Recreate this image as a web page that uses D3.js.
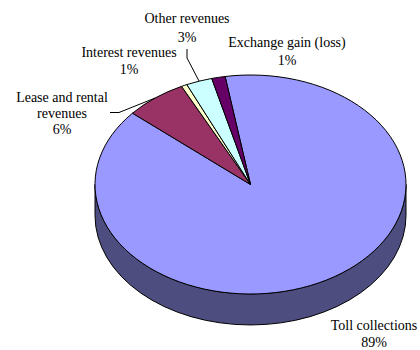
<!DOCTYPE html>
<html>
<head>
<meta charset="utf-8">
<script src="https://cdn.jsdelivr.net/npm/d3@7"></script>
<style>
  body { margin: 0; background: #fff; }
</style>
</head>
<body>
<div id="chart"></div>
<script>
// slice data, clockwise from the top
const categories = ["Toll collections", "Lease and rental revenues", "Interest revenues", "Other revenues", "Exchange gain (loss)"];
const values = [88.9, 6.4, 0.6, 2.7, 1.4];
const labelLines = [
  ["Toll collections", "89%"],
  ["Lease and rental", "revenues", "6%"],
  ["Interest revenues", "1%"],
  ["Other revenues", "3%"],
  ["Exchange gain (loss)", "1%"]
];
const colors = ["#9999ff", "#993366", "#ffffcc", "#ccffff", "#660066"];

const width = 420, height = 350;
const cx = 250.5, cy = 184.5, rx = 155.5, ry = 109.5, depth = 31;
const startDeg = -9.4;

const svg = d3.select("#chart").append("svg")
  .attr("width", width)
  .attr("height", height);

const pie = d3.pie().sort(null)
  .startAngle(startDeg * Math.PI / 180)
  .endAngle((startDeg + 360) * Math.PI / 180);
const arcs = pie(values);

// point on the top ellipse for angle measured clockwise from 12 o'clock
function pt(a, dy) {
  return [cx + rx * Math.sin(a), cy - ry * Math.cos(a) + (dy || 0)];
}

// side wall (front half, all of it belongs to the toll slice)
const sideD = "M" + [cx - rx, cy] + " L" + [cx - rx, cy + depth] +
  " A" + rx + "," + ry + " 0 0 0 " + [cx + rx, cy + depth] +
  " L" + [cx + rx, cy] + " A" + rx + "," + ry + " 0 0 1 " + [cx - rx, cy] + " Z";
svg.append("path")
  .attr("d", sideD)
  .attr("fill", "#4d4d80")
  .attr("stroke", "#000")
  .attr("stroke-width", 1);

// top slices
function slicePath(d) {
  const p0 = pt(d.startAngle), p1 = pt(d.endAngle);
  const large = (d.endAngle - d.startAngle) > Math.PI ? 1 : 0;
  return "M" + [cx, cy] + " L" + p0 + " A" + rx + "," + ry + " 0 " + large + " 1 " + p1 + " Z";
}

svg.append("g").selectAll("path")
  .data(arcs)
  .join("path")
  .attr("d", slicePath)
  .attr("fill", (d, i) => colors[i])
  .attr("stroke", "#000")
  .attr("stroke-width", 1)
  .attr("stroke-linejoin", "round");

// labels
const labelPos = [
  { x: 374, y: 330, lh: 17 },
  { x: 62, y: 102, lh: 16 },
  { x: 129, y: 57, lh: 17 },
  { x: 187, y: 23, lh: 18.5 },
  { x: 287, y: 47, lh: 18 }
];

const labels = svg.append("g")
  .style("font-family", "'Liberation Serif', 'Times New Roman', serif")
  .style("font-size", "14px")
  .selectAll("text")
  .data(arcs)
  .join("text")
  .attr("text-anchor", "middle")
  .attr("x", (d, i) => labelPos[i].x)
  .attr("y", (d, i) => labelPos[i].y);
labels.each(function (d, i) {
  d3.select(this).selectAll("tspan")
    .data(labelLines[i])
    .join("tspan")
    .attr("x", labelPos[i].x)
    .attr("dy", (t, j) => j === 0 ? 0 : labelPos[i].lh)
    .text(t => t);
});

// leader lines
const mid = d => (d.startAngle + d.endAngle) / 2;
const lease = arcs[1], other = arcs[3];
const lp = pt(mid(lease));
svg.append("polyline")
  .attr("points", [[110, 112.5], [119, 112.5], lp].map(p => p.join(",")).join(" "))
  .attr("fill", "none").attr("stroke", "#000").attr("stroke-width", 1);
const op = pt(mid(other));
svg.append("polyline")
  .attr("points", [[187, 49], [187, 58], op].map(p => p.join(",")).join(" "))
  .attr("fill", "none").attr("stroke", "#000").attr("stroke-width", 1);
</script>
</body>
</html>
